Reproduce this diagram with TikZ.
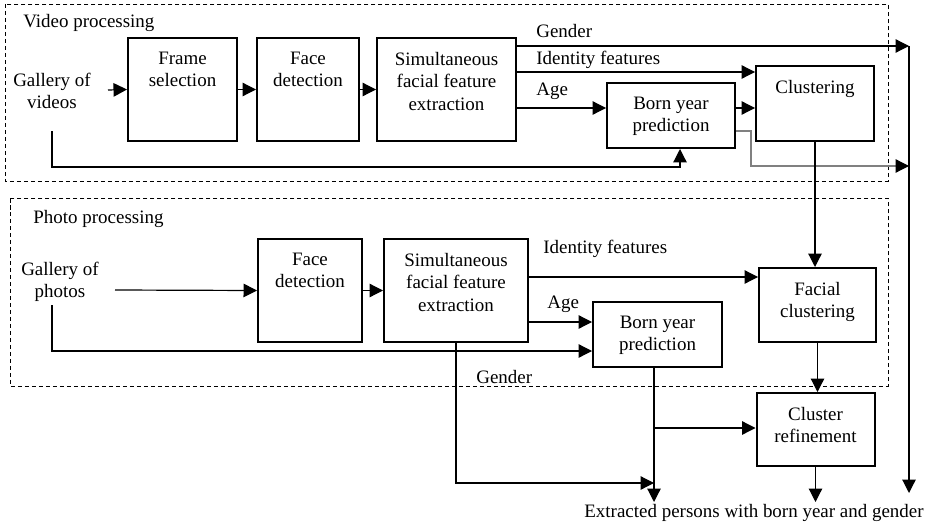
\documentclass[tikz,border=0pt]{standalone}
\usepackage{fontspec}
\setmainfont{Liberation Serif}
\usetikzlibrary{arrows.meta}

% text of a block, set from the top of the block
\newcommand{\blocktext}[3]{\parbox[c][#2][t]{#1}{\centering\vspace*{0.28cm}#3}}

\begin{document}
\begin{tikzpicture}[x=0.02cm,y=-0.02cm,
    every node/.style={font=\fontsize{10.8}{12.8}\selectfont},
    block/.style={draw,line width=0.04cm,inner sep=0pt},
    caption/.style={inner sep=0pt,anchor=base west},
    gallery/.style={inner sep=0pt,align=center},
    flow/.style={line width=0.024cm,-{Triangle[length=0.27cm,width=0.27cm,color=black]}},
    stage/.style={line width=0.02cm,dash pattern=on 0.09cm off 0.05cm}]
  \useasboundingbox (0,0) rectangle (936,524);

  % Drawing stage boxes
  \draw [stage] (5,4) rectangle (888,181);%
  \draw [stage] (10,198) rectangle (888,386);%
  \node [caption] (vidstage) at (23,28) {Video processing};%
  \node [caption] (phostage) at (33,223) {Photo processing};%

  % Marking video blocks
  \node [gallery] (galvid) at (52,91) {Gallery of\\videos};%
  \node [block] (framesel) at (182.5,89.5) {\blocktext{2.18cm}{2.06cm}{Frame\\selection}};%
  \node [block] (facevid) at (308,89.5) {\blocktext{2.04cm}{2.06cm}{Face\\detection}};%
  \node [block] (featvid) at (446.5,89.5) {\blocktext{2.78cm}{2.06cm}{Simultaneous\\facial feature\\extraction}};%
  \node [block] (bornvid) at (671,115.5) {\blocktext{2.56cm}{1.30cm}{Born year\\prediction}};%
  \node [block] (clust) at (815,103.5) {\blocktext{2.36cm}{1.50cm}{Clustering}};%

  % Marking photo blocks
  \node [gallery] (galpho) at (60,282) {Gallery of\\photos};%
  \node [block] (facepho) at (310,290.5) {\blocktext{2.08cm}{2.06cm}{Face\\detection}};%
  \node [block] (featpho) at (456,290.5) {\blocktext{2.88cm}{2.06cm}{Simultaneous\\facial feature\\extraction}};%
  \node [block] (bornpho) at (657.5,334.5) {\blocktext{2.58cm}{1.30cm}{Born year\\prediction}};%
  \node [block] (facclust) at (817.5,305) {\blocktext{2.34cm}{1.48cm}{Facial\\clustering}};%
  \node [block] (refine) at (815.5,429.5) {\blocktext{2.36cm}{1.46cm}{Cluster\\refinement}};%

  % Marking output
  \node [caption] (output) at (584,517) {Extracted persons with born year and gender};%

  % Free ends
  \coordinate (vidin) at (108,90);%
  \coordinate (vidtap) at (52,131);%
  \coordinate (phoin) at (115,290);%
  \coordinate (photap) at (52,305);%
  \coordinate (gendtop) at (909,46);%
  \coordinate (gendbot) at (909,493);%

  % Drawing video flow
  \draw [flow] (vidin) -- (framesel.west);%
  \draw [flow] (framesel) -- (facevid);%
  \draw [flow] (facevid) -- (featvid);%
  \draw [flow] (featvid.east |- gendtop) -- (gendtop);%
  \node [caption] (gendvid) at (536,37) {Gender};%
  \draw [flow] (featvid.east |- 0,72) -- (clust.west |- 0,72);%
  \node [caption] (idvid) at (536,64) {Identity features};%
  \draw [flow] (featvid.east |- 0,108) -- (bornvid.west |- 0,108);%
  \node [caption] (agevid) at (536,95) {Age};%
  \draw [flow] (bornvid.east |- 0,108) -- (clust.west |- 0,108);%
  \draw [flow] (vidtap) -- (52,167) -- (680,167) -- (bornvid.south -| 680,0);%
  \draw [flow,gray] (bornvid.east |- 0,131) -- (751,131) -- (751,166) -- (gendtop |- 0,166);%
  \draw [flow] (clust.south) -- (clust.south |- facclust.north);%

  % Drawing photo flow
  \draw [flow] (phoin) -- (facepho.west);%
  \draw [flow] (facepho) -- (featpho);%
  \draw [flow] (featpho.east |- 0,277) -- (facclust.west |- 0,277);%
  \node [caption] (idpho) at (543,253) {Identity features};%
  \draw [flow] (featpho.east |- 0,322) -- (bornpho.west |- 0,322);%
  \node [caption] (agepho) at (547,308) {Age};%
  \draw [flow] (photap) -- (52,351) -- (bornpho.west |- 0,351);%
  \draw [flow] (facclust.south) -- (facclust.south |- refine.north);%
  \draw [flow] (featpho.south -| 456,0) -- (456,483) -- (654,483);%
  \node [caption] (gendpho) at (476,383) {Gender};%

  % Drawing output flow
  \draw [flow] (bornpho.south -| 654,0) -- (654,502);%
  \draw [flow] (654,428) -- (refine.west |- 0,428);%
  \draw [flow] (refine.south) -- (refine.south |- 0,502);%
  \draw [flow] (gendtop) -- (gendbot);%
\end{tikzpicture}
\end{document}
